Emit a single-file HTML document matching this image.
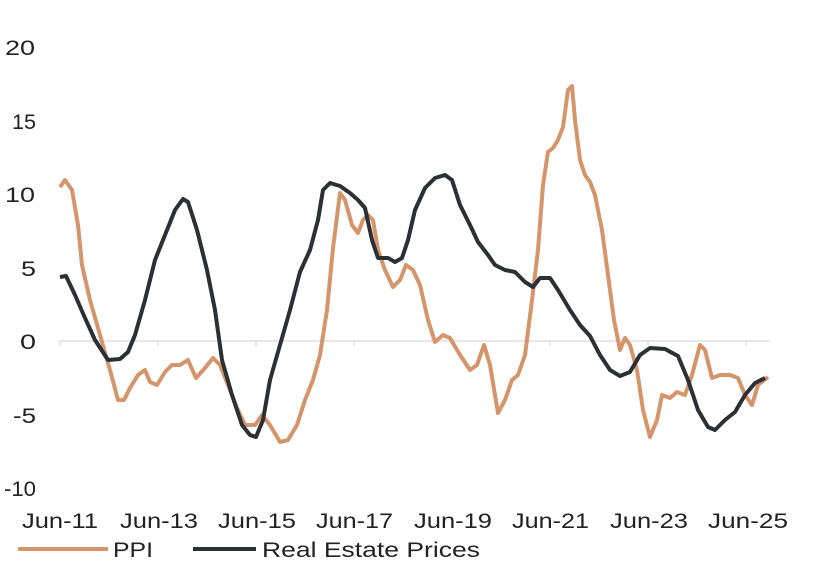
<!DOCTYPE html>
<html><head><meta charset="utf-8"><style>
html,body{margin:0;padding:0;background:#fff;}
svg{display:block;font-family:"Liberation Sans",sans-serif;}
</style></head><body>
<svg width="816" height="580" viewBox="0 0 816 580" xmlns="http://www.w3.org/2000/svg">
<g fill="#222" font-size="21">
<text x="5" y="55" textLength="30" lengthAdjust="spacingAndGlyphs">20</text>
<text x="12" y="129" textLength="24" lengthAdjust="spacingAndGlyphs">15</text>
<text x="5" y="202" textLength="30" lengthAdjust="spacingAndGlyphs">10</text>
<text x="21" y="276" textLength="15" lengthAdjust="spacingAndGlyphs">5</text>
<text x="20" y="349" textLength="16" lengthAdjust="spacingAndGlyphs">0</text>
<text x="13" y="423" textLength="23" lengthAdjust="spacingAndGlyphs">-5</text>
<text x="4" y="496" textLength="32" lengthAdjust="spacingAndGlyphs">-10</text>
</g>
<line x1="60" y1="341" x2="770" y2="341" stroke="#d9d9d9" stroke-width="1.2"/>
<g stroke="#d9d9d9" stroke-width="1.2">
<line x1="60" y1="341" x2="60" y2="346"/><line x1="158" y1="341" x2="158" y2="346"/><line x1="256" y1="341" x2="256" y2="346"/><line x1="354" y1="341" x2="354" y2="346"/><line x1="452" y1="341" x2="452" y2="346"/><line x1="550" y1="341" x2="550" y2="346"/><line x1="648" y1="341" x2="648" y2="346"/><line x1="746" y1="341" x2="746" y2="346"/>
</g>
<polyline fill="none" stroke="#d4956a" stroke-width="4" stroke-linejoin="round" points="60,187 65,180 72,190 78,225 82,265 90,300 100,335 110,370 118,400 124,400 130,388 138,375 145,370 150,382 157,385 165,372 172,365 180,365 188,360 196,378 205,368 213,358 220,365 228,385 237,408 245,425 255,425 262,415 270,425 280,442 288,440 297,425 305,400 313,380 320,355 327,310 333,248 340,193 345,200 352,225 358,233 363,220 368,215 373,220 378,250 385,270 393,287 400,280 406,265 413,270 420,285 428,320 435,342 443,335 450,338 460,355 470,370 477,365 484,345 490,365 498,413 505,400 512,380 518,375 525,355 532,300 538,250 543,185 548,152 553,148 558,140 563,127 568,90 572,86 575,120 580,160 585,175 590,182 595,195 602,230 608,275 614,320 620,350 625,338 630,345 637,370 643,410 650,437 657,420 662,395 670,398 677,392 685,395 692,375 700,345 705,350 712,378 720,375 730,375 738,378 745,395 752,405 758,385 768,377"/>
<polyline fill="none" stroke="#2b3035" stroke-width="4" stroke-linejoin="round" points="60,277 66,276 75,295 85,318 95,340 108,360 120,359 128,352 135,335 145,300 155,260 165,235 175,210 183,199 188,202 197,230 207,270 215,310 222,360 232,395 242,425 250,435 256,437 263,420 270,380 280,345 290,310 300,272 310,250 318,220 323,190 330,183 340,186 350,193 358,200 365,208 372,240 378,258 388,258 395,262 402,258 408,240 415,210 425,188 435,178 445,175 452,180 460,205 470,225 478,242 488,255 495,265 505,270 515,272 525,282 533,287 540,278 550,278 558,290 570,310 580,325 590,336 600,355 610,370 620,376 630,372 640,355 650,348 665,349 678,356 688,380 698,410 708,427 715,430 725,420 735,412 745,395 755,383 765,378"/>
<g fill="#222" font-size="21">
<text x="22" y="528" textLength="76" lengthAdjust="spacingAndGlyphs">Jun-11</text>
<text x="120" y="528" textLength="78" lengthAdjust="spacingAndGlyphs">Jun-13</text>
<text x="218" y="528" textLength="78" lengthAdjust="spacingAndGlyphs">Jun-15</text>
<text x="316" y="528" textLength="77" lengthAdjust="spacingAndGlyphs">Jun-17</text>
<text x="414" y="528" textLength="78" lengthAdjust="spacingAndGlyphs">Jun-19</text>
<text x="512" y="528" textLength="77" lengthAdjust="spacingAndGlyphs">Jun-21</text>
<text x="610" y="528" textLength="78" lengthAdjust="spacingAndGlyphs">Jun-23</text>
<text x="708" y="528" textLength="80" lengthAdjust="spacingAndGlyphs">Jun-25</text>
</g>
<line x1="18" y1="549" x2="108" y2="549" stroke="#d4956a" stroke-width="4"/>
<text x="113" y="557" font-size="21" fill="#222" textLength="40" lengthAdjust="spacingAndGlyphs">PPI</text>
<line x1="193" y1="549" x2="256" y2="549" stroke="#2b3035" stroke-width="4"/>
<text x="262" y="557" font-size="21" fill="#222" textLength="218" lengthAdjust="spacingAndGlyphs">Real Estate Prices</text>
</svg>
</body></html>
